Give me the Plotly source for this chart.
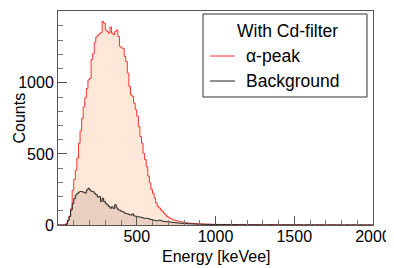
import plotly.graph_objects as go

bin_width = 10  # keV
# counts per 10 keV bin, starting at 0 keV
alpha_peak = [
    0, 0, 0, 0, 0, 10, 35, 62, 115, 245,
    320, 385, 470, 575, 660, 750, 830, 895, 960, 1020,
    1030, 1165, 1205, 1285, 1322, 1335, 1345, 1352, 1432, 1418,
    1372, 1360, 1348, 1392, 1350, 1338, 1362, 1372, 1326, 1256,
    1246, 1242, 1186, 1150, 1068, 975, 915, 905, 858, 812,
    765, 692, 622, 576, 505, 460, 410, 345, 296, 250,
    222, 190, 155, 131, 120, 106, 95, 82, 71, 60,
    52, 47, 41, 36, 33, 30, 27, 24, 22, 20,
    17, 16, 14, 13, 12, 12, 11, 10, 9, 8,
    8, 7, 7, 6, 6, 5, 5, 6, 4, 5,
    4, 5, 3, 4, 4, 3, 5, 3, 4, 2,
    3, 4, 2, 3, 3, 2, 4, 2, 3, 2,
    2, 3, 2, 1, 3, 2, 2, 1, 2, 3,
    1, 2, 2, 1, 2, 1, 3, 1, 2, 1,
    1, 2, 1, 2, 1, 1, 2, 0, 1, 2,
    1, 1, 0, 2, 1, 1, 0, 1, 1, 2,
    0, 1, 1, 0, 1, 1, 0, 2, 1, 0,
    1, 0, 1, 1, 0, 1, 0, 1, 0, 1,
    1, 0, 0, 1, 0, 1, 0, 0, 1, 0,
    0, 1, 0, 0, 1, 0, 0, 1, 0, 0,
]
background = [
    0, 0, 0, 0, 0, 5, 30, 60, 105, 150,
    185, 210, 222, 232, 236, 234, 230, 224, 246, 258,
    245, 236, 234, 222, 212, 196, 200, 165, 188, 166,
    152, 142, 130, 118, 128, 116, 142, 120, 106, 104,
    95, 93, 84, 80, 78, 72, 70, 78, 64, 62,
    59, 57, 55, 52, 48, 47, 47, 45, 40, 38,
    35, 33, 30, 30, 34, 30, 28, 25, 24, 23,
    22, 20, 19, 18, 16, 15, 14, 13, 12, 12,
    11, 10, 9, 9, 8, 8, 7, 7, 6, 6,
    6, 5, 5, 5, 4, 5, 4, 4, 3, 4,
    3, 3, 4, 2, 3, 3, 2, 3, 2, 3,
    2, 2, 3, 2, 1, 2, 2, 1, 2, 1,
    2, 1, 1, 2, 1, 1, 2, 1, 1, 1,
    1, 1, 0, 1, 1, 2, 1, 0, 1, 1,
    1, 0, 1, 1, 0, 1, 1, 0, 1, 0,
    1, 0, 1, 0, 1, 0, 0, 1, 0, 1,
    0, 1, 0, 0, 1, 0, 1, 0, 0, 1,
    0, 0, 1, 0, 0, 1, 0, 0, 0, 1,
    0, 0, 0, 1, 0, 0, 0, 1, 0, 0,
    0, 0, 1, 0, 0, 0, 0, 1, 0, 0,
]
series_names = ["\u03b1-peak", "Background"]
legend_header = "With Cd-filter"
x_title = "Energy [keVee]"
y_title = "Counts"


def step_xy(counts):
    xs = [i * bin_width for i in range(len(counts))] + [len(counts) * bin_width]
    ys = list(counts) + [counts[-1]]
    return xs, ys


FONT = "Liberation Sans, Arial, sans-serif"
fig = go.Figure()
xa, ya = step_xy(alpha_peak)
fig.add_trace(go.Scatter(x=xa, y=ya, mode="lines", line=dict(shape="hv", color="#ff3030", width=1),
                         fill="tozeroy", fillcolor="#ffe8da", showlegend=False, name=series_names[0]))
xb, yb = step_xy(background)
fig.add_trace(go.Scatter(x=xb, y=yb, mode="lines", line=dict(shape="hv", color="#222222", width=1),
                         fill="tozeroy", fillcolor="rgba(120,90,60,0.16)", showlegend=False, name=series_names[1]))

# the page body has an 8px margin, so the figure is 8px smaller and shifted
fig.update_layout(
    width=386, height=260,
    margin=dict(l=50, r=21, t=3, b=43),
    paper_bgcolor="white", plot_bgcolor="white",
    font=dict(family=FONT, size=16, color="black"),
    showlegend=False,
    xaxis=dict(range=[0, 2000], tickvals=[500, 1000, 1500, 2000], ticks="inside", ticklen=9,
               tickcolor="#555", showline=True, linecolor="#555", linewidth=1, mirror=True,
               showgrid=False, zeroline=False, automargin=False, ticklabelstandoff=-3,
               minor=dict(dtick=100, ticks="inside", ticklen=5, tickcolor="#777"),
               tickfont=dict(size=16)),
    yaxis=dict(range=[0, 1505], tickvals=[0, 500, 1000], ticks="inside", ticklen=9,
               tickcolor="#555", showline=True, linecolor="#555", linewidth=1, mirror=True,
               showgrid=False, zeroline=False, automargin=False,
               minor=dict(dtick=100, ticks="inside", ticklen=5, tickcolor="#777"),
               tickfont=dict(size=16)),
)

# positions in page pixels of the plot frame, converted to paper coords
pl, pr, pt, pb = 58, 373, 11, 225
def px(x):
    return (x - pl) / (pr - pl)
def py(y):
    return (pb - y) / (pb - pt)

fig.add_annotation(xref="paper", yref="paper", x=px(216), y=py(256), text=x_title, showarrow=False,
                   xanchor="center", yanchor="middle", font=dict(size=16, family=FONT, color="black"))
fig.add_annotation(xref="paper", yref="paper", x=px(8), y=py(118), text=y_title, showarrow=False,
                   textangle=-90, xanchor="left", yanchor="middle",
                   font=dict(size=16, family=FONT, color="black"))

fig.add_shape(type="rect", xref="paper", yref="paper", x0=px(203), x1=px(367), y0=py(97), y1=py(14),
              line=dict(color="#333", width=1), fillcolor="white", layer="above")
fig.add_annotation(xref="paper", yref="paper", x=px(287), y=py(31), text=legend_header, showarrow=False,
                   xanchor="center", yanchor="middle", font=dict(size=17.5, family=FONT, color="black"))
rows = [(py(56), "#ff3030", series_names[0]), (py(81), "#222222", series_names[1])]
for yv, col, name in rows:
    fig.add_shape(type="line", xref="paper", yref="paper", x0=px(210), x1=px(235), y0=yv, y1=yv,
                  line=dict(color=col, width=1), layer="above")
    fig.add_annotation(xref="paper", yref="paper", x=px(244), y=yv, text=name, showarrow=False,
                       xanchor="left", yanchor="middle", font=dict(size=17.5, family=FONT, color="black"))

fig.write_html("out.html")
